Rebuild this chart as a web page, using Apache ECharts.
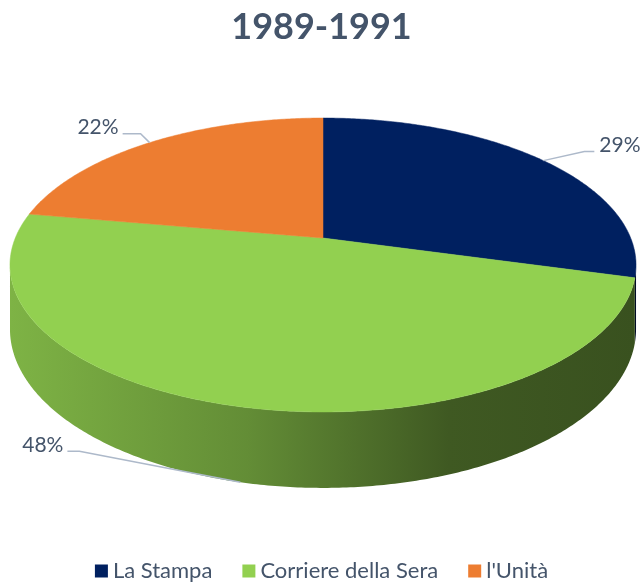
<!DOCTYPE html>
<html>
<head>
<meta charset="utf-8">
<script src="https://cdn.jsdelivr.net/npm/echarts@6/dist/echarts.min.js"></script>
<style>
html, body { margin: 0; padding: 0; background: #fff; }
#chart { width: 643px; height: 587px; }
</style>
</head>
<body>
<div id="chart"></div>
<script>
var title = '1989-1991'
var categories = ['La Stampa', 'Corriere della Sera', "l'Unità"]
var shares = [29, 48, 22]
var colors = ['#002060', '#92d050', '#ed7d31']

var total = shares.reduce(function (a, b) { return a + b }, 0)
var starts = []
var acc = 0
shares.forEach(function (v) {
	starts.push(acc / total * Math.PI * 2)
	acc += v
})

// tilted disk seen in perspective: p makes the far side smaller
var geo = { cx: 323, cy: 238, a: 307.7, b: 142, p: 0.1837, depth: 62 }
var edge = Math.acos(-geo.p) // silhouette angle, rim visible between edge and 2PI-edge

// leader line bends: dx, dy to elbow, then horizontal run
var labelBend = [[41, -9, 10], [-161, -31, -12], [-9, -9, -18]]
var textColor = '#44546a'
var font = 'Lato, "Noto Sans", sans-serif'

function proj(t, h) {
	var u = Math.sin(t), v = Math.cos(t)
	var s = 1 / (1 + geo.p * v)
	return [geo.cx + geo.a * u * s, geo.cy - geo.b * v * s + (h || 0) * s]
}
function arc(t0, t1, h) {
	var pts = []
	var n = Math.max(2, Math.ceil(Math.abs(t1 - t0) / 0.01))
	for (var i = 0; i <= n; i++) {
		pts.push(proj(t0 + (t1 - t0) * i / n, h))
	}
	return pts
}
function shade(hex, f) {
	var c = parseInt(hex.slice(1), 16)
	var r = Math.round(((c >> 16) & 255) * f)
	var g = Math.round(((c >> 8) & 255) * f)
	var b = Math.round((c & 255) * f)
	return 'rgb(' + r + ',' + g + ',' + b + ')'
}

function renderSide(params, api) {
	var i = params.dataIndex
	var t0 = starts[i]
	var t1 = t0 + api.value(0) / total * Math.PI * 2
	var a = Math.max(t0, edge), b = Math.min(t1, Math.PI * 2 - edge)
	if (b <= a) return { type: 'group', children: [] }
	var pts = arc(a, b, 0).concat(arc(b, a, geo.depth))
	var left = proj(Math.PI * 2 - edge)[0], right = proj(edge)[0]
	var base = colors[i]
	return {
		type: 'polygon',
		shape: { points: pts },
		style: {
			fill: {
				type: 'linear', x: left, y: 0, x2: right, y2: 0, global: true,
				colorStops: [
					{ offset: 0, color: shade(base, 0.86) },
					{ offset: 0.38, color: shade(base, 0.68) },
					{ offset: 0.7, color: shade(base, 0.43) },
					{ offset: 1, color: shade(base, 0.39) }
				]
			},
			stroke: null
		}
	}
}

function renderTop(params, api) {
	var i = params.dataIndex
	var v = api.value(0)
	var t0 = starts[i]
	var t1 = t0 + v / total * Math.PI * 2
	var pts = [[geo.cx, geo.cy]].concat(arc(t0, t1, 0))

	var mid = (t0 + t1) / 2
	var front = mid > edge && mid < Math.PI * 2 - edge
	var anchor = proj(mid, front ? geo.depth : 0)
	var bend = labelBend[i]
	var elbow = [anchor[0] + bend[0], anchor[1] + bend[1]]
	var end = [elbow[0] + bend[2], elbow[1]]
	var right = bend[2] > 0

	return {
		type: 'group',
		children: [{
			type: 'polygon',
			shape: { points: pts },
			style: { fill: colors[i], stroke: colors[i], lineWidth: 0.5 }
		}, {
			type: 'polyline',
			z2: 10,
			shape: { points: [anchor, elbow, end] },
			style: { stroke: '#adb9ca', lineWidth: 1.5, fill: null }
		}, {
			type: 'text',
			z2: 10,
			x: end[0] + (right ? 5 : -4),
			y: end[1] - 6,
			style: {
				text: Math.round(v / total * 100) + '%',
				fill: textColor,
				font: '21px ' + font,
				align: right ? 'left' : 'right',
				verticalAlign: 'middle'
			}
		}]
	}
}

var myChart = echarts.init(document.getElementById('chart'))
var option = {
	animation: false,
	color: colors,
	title: {
		text: title,
		left: 'center',
		top: 4,
		textStyle: { fontSize: 36, fontWeight: 'bold', color: textColor, fontFamily: font }
	},
	legend: {
		data: categories,
		bottom: 0,
		left: 'center',
		icon: 'rect',
		itemWidth: 13,
		itemHeight: 13,
		itemGap: 30,
		selectedMode: false,
		itemStyle: { opacity: 1 },
		textStyle: { fontSize: 22, color: textColor, fontFamily: font }
	},
	series: [{
		// only feeds the legend, drawn off the canvas
		type: 'pie',
		radius: [0, 1],
		center: [-50, -50],
		silent: true,
		label: { show: false },
		labelLine: { show: false },
		data: categories.map(function (name, i) {
			return { name: name, value: shares[i], itemStyle: { color: colors[i] } }
		})
	}, {
		type: 'custom',
		coordinateSystem: 'none',
		z: 1,
		silent: true,
		renderItem: renderSide,
		data: shares
	}, {
		type: 'custom',
		coordinateSystem: 'none',
		z: 2,
		silent: true,
		renderItem: renderTop,
		data: shares
	}]
}
myChart.setOption(option)
</script>
</body>
</html>
